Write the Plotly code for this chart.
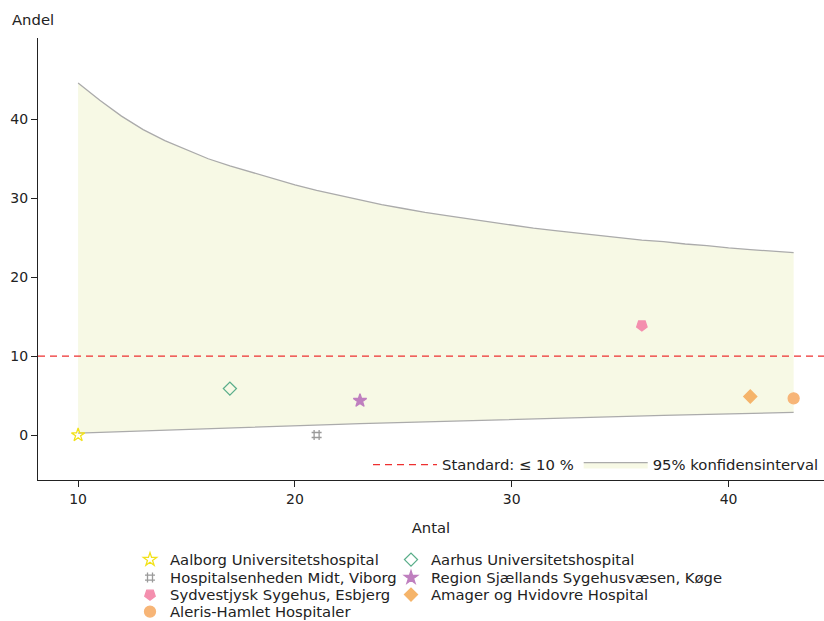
import plotly.graph_objects as go

# Hospitals: number of patients (Antal) and share in percent (Andel)
hospitals = [
    "Aalborg Universitetshospital",
    "Aarhus Universitetshospital",
    "Hospitalsenheden Midt, Viborg",
    "Region Sjællands Sygehusvæsen, Køge",
    "Sydvestjysk Sygehus, Esbjerg",
    "Amager og Hvidovre Hospital",
    "Aleris-Hamlet Hospitaler",
]
antal = [10, 17, 21, 23, 36, 41, 43]
andel = [0.0, 5.88, 0.0, 4.35, 13.89, 4.88, 4.65]

symbols = ["star-open", "diamond-open", "hash-open", "star", "pentagon", "diamond", "circle"]
angles = [0, 0, 0, 0, 180, 0, 0]
colors = ["#f2e21a", "#5aae8a", "#9a9a9a", "#bf7fbf", "#f48fae", "#f5b46a", "#f7b577"]
sizes = [10, 10, 10, 10, 11, 10, 11]
# legend grid: (column, row) of each hospital entry
legend_col = [0, 1, 0, 1, 0, 1, 0]
legend_row = [0, 0, 1, 1, 2, 2, 3]
col_left_px = [130, 391]
row_centers_px = [560, 578, 595, 612]

# 95% confidence band around the standard
ci_n = list(range(10, 44))
ci_upper = [44.6, 42.4, 40.4, 38.7, 37.3, 36.1, 35.0, 34.1, 33.3, 32.5,
            31.7, 31.0, 30.4, 29.8, 29.2, 28.7, 28.2, 27.8, 27.4, 27.0,
            26.6, 26.2, 25.9, 25.6, 25.3, 25.0, 24.7, 24.5, 24.2, 24.0,
            23.7, 23.5, 23.3, 23.1]
ci_lower = [0.25, 0.35, 0.45, 0.55, 0.65, 0.75, 0.85, 0.95, 1.03, 1.12,
            1.20, 1.28, 1.36, 1.44, 1.52, 1.60, 1.68, 1.76, 1.84, 1.92,
            2.00, 2.07, 2.14, 2.21, 2.28, 2.35, 2.42, 2.49, 2.55, 2.61,
            2.67, 2.73, 2.80, 2.87]

standard = 10

x_ticks = [10, 20, 30, 40]
y_ticks = [0, 10, 20, 30, 40]

FONT = "DejaVu Sans"
FS_TITLE = 14.8
FS_TICK = 14
FS_LEGEND = 14.8
W, H = 824, 621
M_L, M_R, M_T, M_B = 38, 0, 38, 141
plot_w = W - M_L - M_R
plot_h = H - M_T - M_B

fig = go.Figure()

# shaded band
fig.add_trace(go.Scatter(
    x=ci_n, y=ci_lower, mode="lines", line=dict(color="#ababab", width=1.3),
    showlegend=False, hoverinfo="skip"))
fig.add_trace(go.Scatter(
    x=ci_n, y=ci_upper, mode="lines", line=dict(color="#ababab", width=1.3),
    fill="tonexty", fillcolor="#f7f9e5",
    name="95% konfidensinterval", legend="legend2"))

# standard line across the full plot width
fig.add_shape(type="line", xref="paper", x0=0, x1=1, yref="y", y0=standard, y1=standard,
              line=dict(color="#ee3030", width=1.4, dash="7px,5px"),
              name="Standard: ≤ 10 %", showlegend=True, legend="legend2")

# one small legend per hospital so the entries form a two-column grid
legend_ids = ["legend"] + [f"legend{k}" for k in range(3, 3 + len(hospitals) - 1)]
legend_layouts = {}
for i, h in enumerate(hospitals):
    lid = legend_ids[i]
    fig.add_trace(go.Scatter(
        x=[antal[i]], y=[andel[i]], mode="markers", name=h,
        marker=dict(symbol=symbols[i], color=colors[i], size=sizes[i], angle=angles[i],
                    line=dict(color=colors[i], width=1.3)),
        legend=lid))
    legend_layouts[lid] = dict(
        x=(col_left_px[legend_col[i]] - M_L) / plot_w, xanchor="left",
        y=(H - M_B - row_centers_px[legend_row[i]]) / plot_h, yanchor="middle",
        bgcolor="rgba(0,0,0,0)", font=dict(size=FS_LEGEND))

axis_common = dict(showline=True, linecolor="#222", linewidth=1.2, ticks="outside",
                   ticklen=6, tickcolor="#222", showgrid=False, zeroline=False,
                   tickfont=dict(family=FONT, size=FS_TICK, color="#222"))

fig.update_layout(
    width=W, height=H,
    margin=dict(l=M_L, r=M_R, t=M_T, b=M_B, autoexpand=False),
    plot_bgcolor="white", paper_bgcolor="white",
    font=dict(family=FONT, size=FS_LEGEND, color="#222"),
    xaxis=dict(range=[8.15, 44.4], tickvals=x_ticks,
               title=dict(text="Antal", standoff=16, font=dict(family=FONT, size=FS_TITLE)),
               **axis_common),
    yaxis=dict(range=[-5.7, 50.3], tickvals=y_ticks, **axis_common),
    legend2=dict(orientation="h", x=1, xanchor="right", y=(H - M_B - 465) / plot_h,
                 yanchor="middle", traceorder="reversed",
                 bgcolor="rgba(0,0,0,0)", font=dict(size=FS_TITLE), itemwidth=64),
    annotations=[dict(text="Andel", xref="paper", yref="paper",
                      x=(10 - M_L) / plot_w, y=(H - M_B - 20) / plot_h,
                      xanchor="left", yanchor="middle", showarrow=False,
                      font=dict(family=FONT, size=FS_TITLE, color="#222"))],
)
fig.update_layout(**legend_layouts)

fig.write_html("out.html")
